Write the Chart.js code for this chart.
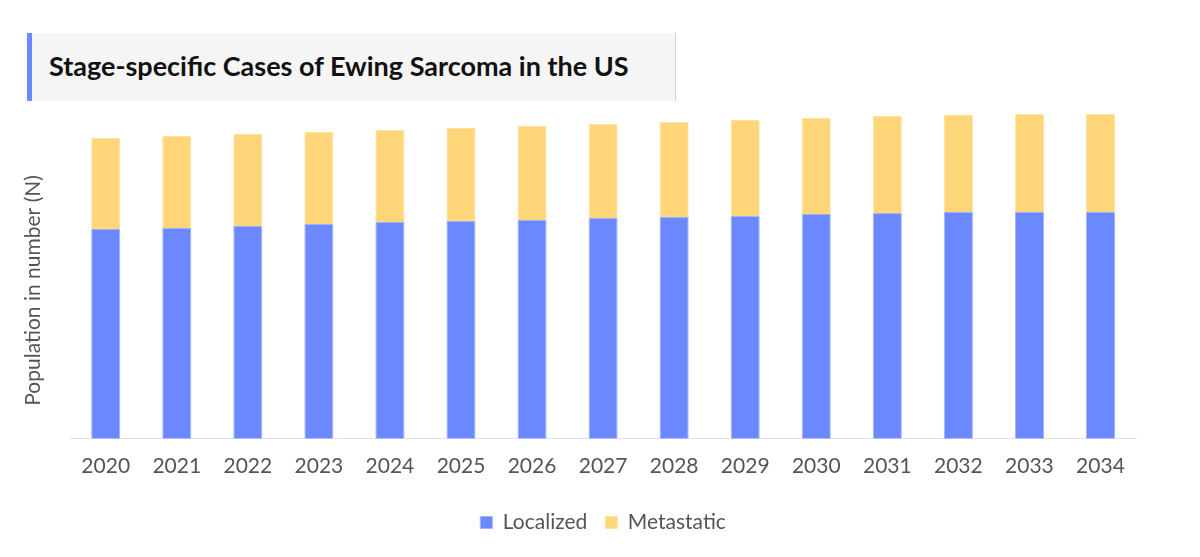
<!DOCTYPE html>
<html>
<head>
<meta charset="utf-8">
<script src="https://cdn.jsdelivr.net/npm/chart.js@4.4.1/dist/chart.umd.min.js"></script>
<style>
  body { margin: 0; background: #fff; font-family: Lato, sans-serif; }
  #wrap { position: relative; width: 1200px; height: 557px; }
  #title {
    position: absolute; left: 27px; top: 33px; width: 649px; height: 68px;
    background: #f5f5f5; border-left: 5px solid #6b8aff; border-right: 1px solid #d0d0d0;
    box-sizing: border-box;
  }
  #title span {
    position: absolute; left: 17px; top: 16px; white-space: nowrap;
    font: bold 27px Lato, sans-serif; color: #111;
  }
  canvas { position: absolute; left: 0; top: 0; }
</style>
</head>
<body>
<div id="wrap">
  <canvas id="chart" width="1200" height="557"></canvas>
  <div id="title"><span>Stage-specific Cases of Ewing Sarcoma in the US</span></div>
</div>
<script>
const years = ["2020", "2021", "2022", "2023", "2024", "2025", "2026", "2027", "2028", "2029", "2030", "2031", "2032", "2033", "2034"];
const localized = [210, 211, 213, 215, 217, 218, 219, 221, 222, 223, 225, 226, 227, 227, 227];
const metastatic = [91, 92, 92, 92, 92, 93, 94, 94, 95, 96, 96, 97, 97.5, 98, 98];

document.addEventListener("DOMContentLoaded", () => {
    const ctx = document.getElementById("chart").getContext("2d");
    new Chart(ctx, {
        type: "bar",
        data: {
            labels: years,
            datasets: [
                {
                    label: "Localized",
                    data: localized,
                    backgroundColor: "#6b88ff",
                    borderColor: "#9fb3ff",
                    borderWidth: 1,
                    categoryPercentage: 1,
                    barPercentage: 0.41,
                },
                {
                    label: "Metastatic",
                    data: metastatic,
                    backgroundColor: "#fed578",
                    borderColor: "#ffe3a3",
                    borderWidth: 1,
                    categoryPercentage: 1,
                    barPercentage: 0.41,
                },
            ],
        },
        options: {
            responsive: false,
            animation: false,
            layout: { padding: { top: 99, left: 21, right: 64, bottom: 14 } },
            scales: {
                x: {
                    stacked: true,
                    grid: { display: false, drawTicks: false },
                    border: { color: "#e3e3e3", width: 1 },
                    ticks: { color: "#555", font: { family: "Lato", size: 21 }, padding: 15 },
                },
                y: {
                    stacked: true,
                    min: 0,
                    max: 340,
                    grid: { display: false },
                    border: { display: false },
                    ticks: { display: false },
                    title: {
                        display: true,
                        // trailing spaces push the visible words down to where the reference has them
                        text: "Population in number (N)" + "\u00a0".repeat(8),
                        color: "#555",
                        font: { family: "Lato", size: 21 },
                        padding: { top: 0, bottom: 16 },
                    },
                },
            },
            plugins: {
                legend: {
                    position: "bottom",
                    fullSize: false,
                    labels: {
                        boxWidth: 12,
                        boxHeight: 12,
                        color: "#555",
                        font: { family: "Lato", size: 21 },
                        padding: 18,
                    },
                },
                tooltip: { enabled: false },
            },
        },
    });
});
</script>
</body>
</html>
